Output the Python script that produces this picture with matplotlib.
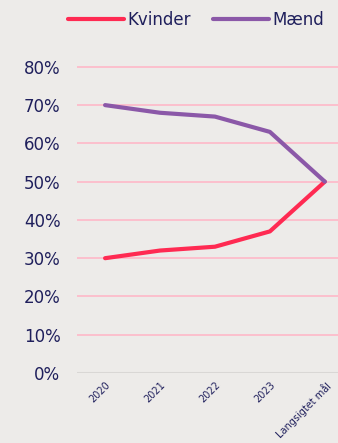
import numpy as np
import matplotlib.pyplot as plt

# Categories and shares (%)
years = ["2020", "2021", "2022", "2023", "Langsigtet mål"]
kvinder = [30, 32, 33, 37, 50]
maend = [70, 68, 67, 63, 50]
yticks = [0, 10, 20, 30, 40, 50, 60, 70, 80]

bg = '#edebe9'
navy = '#1f1f5c'

fig = plt.figure(figsize=(3.38, 4.43), dpi=100, facecolor=bg)
ax = fig.add_axes([0.228, 0.158, 0.772, 0.73], facecolor=bg)

x = np.arange(len(years))
ax.plot(x, kvinder, color='#ff2a52', linewidth=3, label='Kvinder', solid_capstyle='round')
ax.plot(x, maend, color='#8b58a8', linewidth=3, label='Mænd', solid_capstyle='round')

# Gridlines: pink for values, grey base line at 0
for v in yticks[1:]:
    ax.axhline(v, color='#ffb8c8', linewidth=1.2, zorder=0)
ax.axhline(0, color='#d9d7d5', linewidth=1.5, zorder=0)

ax.set_ylim(0, 84.5)
ax.set_xlim(-0.51, 4.24)
ax.set_yticks(yticks)
ax.set_yticklabels(["%d%%" % v for v in yticks], fontsize=12, color=navy)
ax.set_xticks(x)
ax.set_xticklabels(years, rotation=45, ha='right', rotation_mode='anchor', fontsize=7, color=navy)
ax.tick_params(length=0)
ax.tick_params(axis='y', pad=12)
ax.tick_params(axis='x', pad=5)
for s in ax.spines.values():
    s.set_visible(False)

fig.legend(loc='upper center', bbox_to_anchor=(0.58, 1.01), ncol=2, frameon=False,
           fontsize=12, handlelength=3.4, handletextpad=0.2, columnspacing=1.3,
           labelcolor=navy)

plt.savefig('out.png', dpi=100, facecolor=bg)
